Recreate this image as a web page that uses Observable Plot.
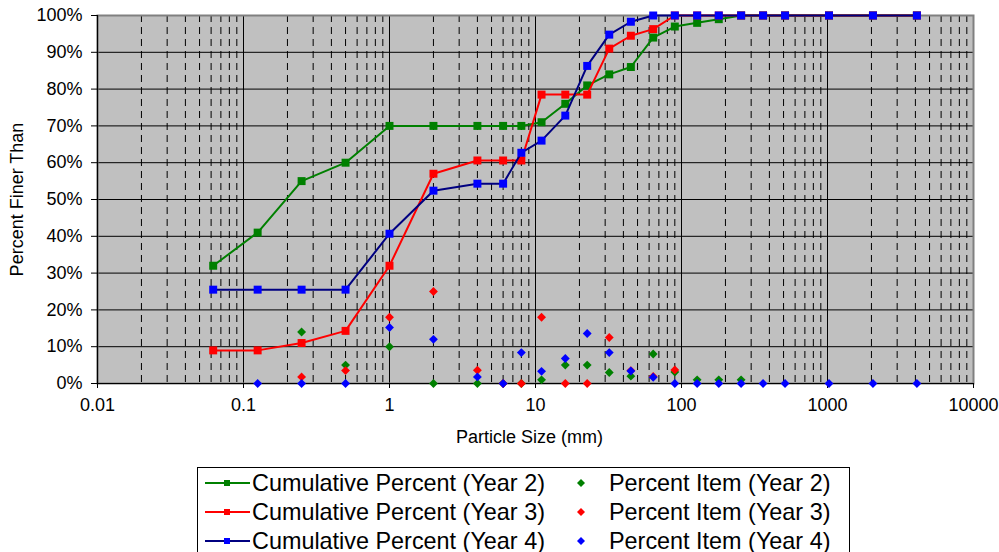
<!DOCTYPE html>
<html><head><meta charset="utf-8">
<script src="https://cdn.jsdelivr.net/npm/d3@7"></script>
<script src="https://cdn.jsdelivr.net/npm/@observablehq/plot@0.6"></script>
<style>
html,body{margin:0;padding:0;background:#fff;width:999px;height:552px;overflow:hidden;font-family:"Liberation Sans",Arial,sans-serif;}
#chart{position:absolute;left:0;top:0;}
#legend{position:absolute;left:197px;top:467px;width:653px;height:120px;border:1px solid #000;box-sizing:border-box;background:#fff;}
.item{position:absolute;font-size:23.4px;height:29px;line-height:29px;white-space:nowrap;color:#000;}
.sw{position:absolute;}
</style></head><body>
<div id="chart"></div>
<div id="legend"></div>
<script>
// Particle sizes (mm)
const sizes = [0.062, 0.125, 0.25, 0.5, 1, 2, 4, 6, 8, 11, 16, 22.6, 32, 45, 64, 90, 128, 180, 256, 362, 512, 1024, 2048, 4096];
// Cumulative percent finer
const cumYear2 = [32, 41, 55, 60, 70, 70, 70, 70, 70, 71, 76, 81, 84, 86, 94, 97, 98, 99, 100, 100, 100, 100, 100, 100];
const cumYear3 = [9, 9, 11, 14.3, 32, 57, 60.6, 60.6, 60.6, 78.5, 78.5, 78.5, 91, 94.5, 96.3, 100, 100, 100, 100, 100, 100, 100, 100, 100];
const cumYear4 = [25.5, 25.5, 25.5, 25.5, 40.7, 52.4, 54.3, 54.3, 62.7, 66, 72.8, 86.3, 94.8, 98.3, 100, 100, 100, 100, 100, 100, 100, 100, 100, 100];
// Percent item (null = not plotted)
const itemYear2 = [null, null, 14, 5, 10, 0, 0, 0, 0, 1, 5, 5, 3, 2, 8, 3.1, 1, 1, 1, null, null, null, null, null];
const itemYear3 = [null, null, 1.8, 3.5, 18, 25, 3.6, 0, 0, 18, 0, 0, 12.5, 3.5, 1.9, 3.7, null, null, null, null, null, null, null, null];
const itemYear4 = [null, 0, 0, 0, 15.2, 12, 1.8, 0, 8.4, 3.3, 6.8, 13.6, 8.4, 3.4, 1.7, 0, 0, 0, 0, 0, 0, 0, 0, 0];
// Axis ticks
const majorTicks = [0.01, 0.1, 1, 10, 100, 1000, 10000];
const yTicks = [0, 10, 20, 30, 40, 50, 60, 70, 80, 90, 100];

const seriesNames = ["Cumulative Percent (Year 2)", "Cumulative Percent (Year 3)", "Cumulative Percent (Year 4)"];
const itemNames = ["Percent Item (Year 2)", "Percent Item (Year 3)", "Percent Item (Year 4)"];
const lineColors = ["#008000", "#FF0000", "#000080"];
const markColors = ["#008000", "#FF0000", "#0000FF"];

const toRows = arr => sizes.map((s, i) => ({x: s, y: arr[i]})).filter(d => d.y != null);
const cums = [cumYear2, cumYear3, cumYear4].map(toRows);
const items = [itemYear2, itemYear3, itemYear4].map(toRows);

const minorTicks = d3.scaleLog().domain([0.01, 10000]).ticks().filter(t => !majorTicks.some(m => Math.abs(m - t) / m < 1e-9));

const marks = [
  Plot.frame({fill: "#C0C0C0", stroke: null}),
  Plot.ruleX(minorTicks, {stroke: "#000", strokeDasharray: "7,5", strokeWidth: 1}),
  Plot.ruleX(majorTicks, {stroke: "#000", strokeWidth: 1}),
  Plot.ruleY(yTicks, {stroke: "#000", strokeWidth: 1}),
  Plot.frame({stroke: "#808080", strokeWidth: 2}),
  Plot.ruleX([0.01], {stroke: "#000", strokeWidth: 1.2}),
  Plot.ruleY([0], {stroke: "#000", strokeWidth: 1.2}),
  Plot.axisX({ticks: majorTicks, tickFormat: d => String(d), tickSize: 5, tickPadding: 10, label: null}),
  Plot.axisY({ticks: yTicks, tickFormat: d => d + "%", tickSize: 6, tickPadding: 9, label: null})
];
cums.forEach((rows, k) => {
  marks.push(Plot.line(rows, {x: "x", y: "y", stroke: lineColors[k], strokeWidth: 2}));
  marks.push(Plot.dot(rows, {x: "x", y: "y", symbol: "square", r: 4.5, fill: markColors[k], stroke: null}));
});
items.forEach((rows, k) => {
  marks.push(Plot.dot(rows, {x: "x", y: "y", symbol: "diamond2", r: 4, fill: markColors[k], stroke: null}));
});
marks.push(Plot.text(["Particle Size (mm)"], {text: d => d, frameAnchor: "bottom", dy: 54, dx: -6, lineAnchor: "middle", textAnchor: "middle", fontSize: 18}));
marks.push(Plot.text(["Percent Finer Than"], {text: d => d, frameAnchor: "left", dx: -80, rotate: -90, textAnchor: "middle", lineAnchor: "middle", fontSize: 18}));

const plot = Plot.plot({
  width: 999, height: 455,
  marginLeft: 97, marginRight: 26, marginTop: 15, marginBottom: 72,
  style: {fontFamily: "'Liberation Sans', Arial, sans-serif", fontSize: "18px", background: "white", color: "#000"},
  x: {type: "log", domain: [0.01, 10000]},
  y: {domain: [0, 100]},
  marks
});
document.getElementById("chart").appendChild(plot);

// Legend
const legend = document.getElementById("legend");
const ns = "http://www.w3.org/2000/svg";
function sw(x, y, w, h, html) {
  const s = document.createElementNS(ns, "svg");
  s.setAttribute("width", w); s.setAttribute("height", h);
  s.setAttribute("class", "sw");
  s.style.left = x + "px"; s.style.top = y + "px";
  s.innerHTML = html;
  legend.appendChild(s);
}
for (let k = 0; k < 3; k++) {
  const cy = 15 + 29 * k;
  sw(7, cy - 6, 45, 12, `<line x1="0" x2="45" y1="6" y2="6" stroke="${lineColors[k]}" stroke-width="2"/><rect x="19" y="3" width="6" height="6" fill="${markColors[k]}"/>`);
  const t1 = document.createElement("div");
  t1.className = "item"; t1.style.left = "54px"; t1.style.top = (cy - 14.5) + "px";
  t1.textContent = seriesNames[k];
  legend.appendChild(t1);
  sw(378, cy - 5, 10, 10, `<path d="M5,1 L9,5 L5,9 L1,5 Z" fill="${markColors[k]}"/>`);
  const t2 = document.createElement("div");
  t2.className = "item"; t2.style.left = "411px"; t2.style.top = (cy - 14.5) + "px";
  t2.textContent = itemNames[k];
  legend.appendChild(t2);
}
</script>
</body></html>
